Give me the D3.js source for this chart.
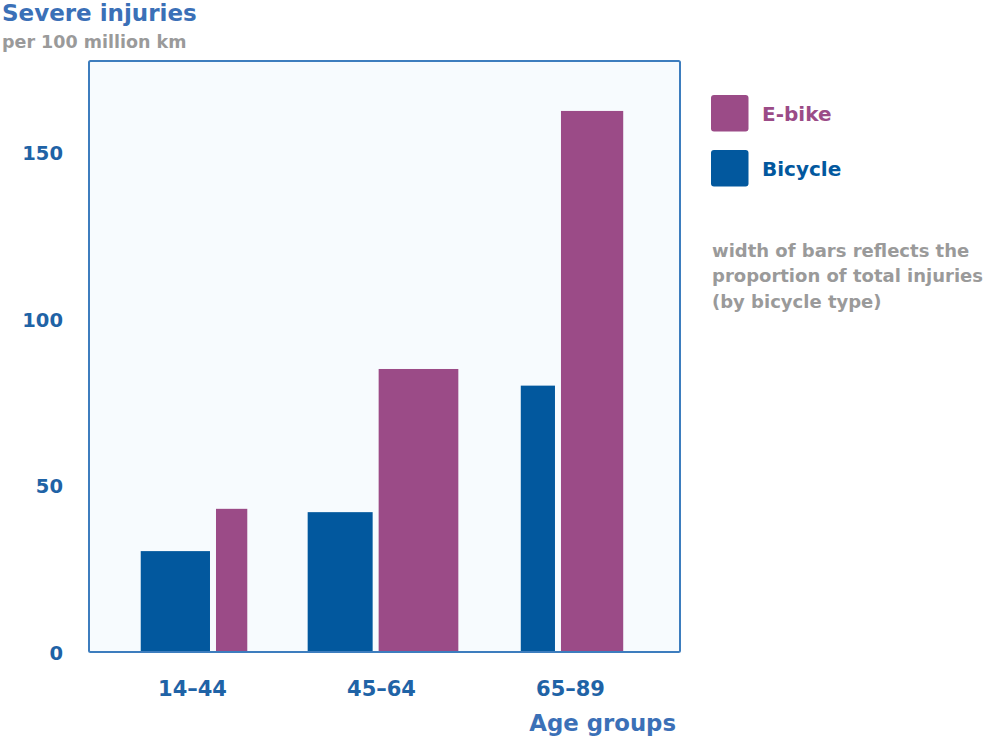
<!DOCTYPE html>
<html>
<head>
<meta charset="utf-8">
<script src="https://cdn.jsdelivr.net/npm/d3@7"></script>
<style>
  html, body { margin: 0; padding: 0; background: #ffffff; }
  svg { display: block; font-family: "DejaVu Sans", Verdana, sans-serif; }
</style>
</head>
<body>
<svg id="chart" width="986" height="742"></svg>
<script>
// ---- data ----
const ageGroups = ["14–44", "45–64", "65–89"];
const bicycleValues = [30.3, 42, 80];
const ebikeValues = [43, 85, 162.5];
// share of total injuries within each bicycle type (%), drives bar width
const bicycleShare = [40.5, 38, 20];
const ebikeShare = [18.3, 46.6, 36.4];
const yTicks = [0, 50, 100, 150];
const seriesNames = ["E-bike", "Bicycle"];

// ---- style ----
const C = {
  ebike: "#9b4b87",
  bike: "#02589e",
  frame: "#3d7dbe",
  frameFill: "#f7fbfe",
  tick: "#1f63a6",
  title: "#3b70b7",
  gray: "#9a9a9a"
};
const plot = { left: 89, right: 680, top: 61, bottom: 652 };
const innerGap = 6;

const svg = d3.select("#chart");

const y = d3.scaleLinear().domain([0, 177.5]).range([plot.bottom, plot.top]);
const x = d3.scalePoint().domain(ageGroups).range([plot.left, plot.right - 3]).padding(0.5556);
const w = d3.scaleLinear().domain([0, 100]).range([0, 171]);

// frame background
svg.append("rect")
  .attr("x", plot.left).attr("y", plot.top)
  .attr("width", plot.right - plot.left).attr("height", plot.bottom - plot.top)
  .attr("fill", C.frameFill);

// bars
const groups = ageGroups.map((g, i) => {
  const wb = w(bicycleShare[i]), we = w(ebikeShare[i]);
  const total = wb + innerGap + we;
  const x0 = x(g) - total / 2;
  return { g, i, wb, we, x0 };
});

svg.append("g").selectAll("rect.bike").data(groups).join("rect")
  .attr("class", "bike")
  .attr("x", d => d.x0)
  .attr("y", d => y(bicycleValues[d.i]))
  .attr("width", d => d.wb)
  .attr("height", d => y(0) - y(bicycleValues[d.i]))
  .attr("fill", C.bike);

svg.append("g").selectAll("rect.ebike").data(groups).join("rect")
  .attr("class", "ebike")
  .attr("x", d => d.x0 + d.wb + innerGap)
  .attr("y", d => y(ebikeValues[d.i]))
  .attr("width", d => d.we)
  .attr("height", d => y(0) - y(ebikeValues[d.i]))
  .attr("fill", C.ebike);

// frame stroke
svg.append("rect")
  .attr("x", plot.left).attr("y", plot.top)
  .attr("width", plot.right - plot.left).attr("height", plot.bottom - plot.top)
  .attr("fill", "none")
  .attr("stroke", C.frame).attr("stroke-width", 2).attr("rx", 1.5);

// y axis
const yAxis = svg.append("g")
  .attr("transform", `translate(${plot.left - 26},0)`)
  .call(d3.axisLeft(y).tickValues(yTicks).tickSize(0).tickPadding(0));
yAxis.select(".domain").remove();
yAxis.selectAll("text")
  .attr("fill", C.tick).attr("font-size", 19.5).attr("font-weight", 700)
  .attr("font-family", "DejaVu Sans, sans-serif")
  .attr("dy", "0.36em");

// x axis
const xAxis = svg.append("g")
  .attr("transform", `translate(-2,${plot.bottom + 36.5})`)
  .call(d3.axisBottom(x).tickSize(0).tickPadding(0));
xAxis.select(".domain").remove();
xAxis.selectAll("text")
  .attr("fill", C.tick).attr("font-size", 21).attr("font-weight", 700)
  .attr("font-family", "DejaVu Sans, sans-serif")
  .attr("dy", "0.36em");

// titles
svg.append("text").attr("x", 2).attr("y", 21)
  .attr("fill", C.title).attr("font-size", 23).attr("font-weight", 700)
  .text("Severe injuries");
svg.append("text").attr("x", 2).attr("y", 47.5)
  .attr("fill", C.gray).attr("font-size", 17.5).attr("font-weight", 700)
  .text("per 100 million km");
svg.append("text").attr("x", 676).attr("y", 731)
  .attr("text-anchor", "end")
  .attr("fill", C.title).attr("font-size", 22.8).attr("font-weight", 700)
  .text("Age groups");

// legend
const legColors = [C.ebike, C.bike];
const leg = svg.append("g").attr("transform", "translate(711,95)");
const li = leg.selectAll("g").data(seriesNames).join("g")
  .attr("transform", (d, i) => `translate(0,${i * 55})`);
li.append("rect").attr("width", 37.5).attr("height", 36.5).attr("rx", 3)
  .attr("fill", (d, i) => legColors[i]);
li.append("text").attr("x", 51).attr("y", 26)
  .attr("font-size", 20).attr("font-weight", 700)
  .attr("fill", (d, i) => legColors[i])
  .text(d => d);

// note
const note = ["width of bars reflects the", "proportion of total injuries", "(by bicycle type)"];
svg.append("g").selectAll("text").data(note).join("text")
  .attr("x", 712).attr("y", (d, i) => 256.5 + i * 25.5)
  .attr("fill", C.gray).attr("font-size", 18).attr("font-weight", 700)
  .text(d => d);
</script>
</body>
</html>
